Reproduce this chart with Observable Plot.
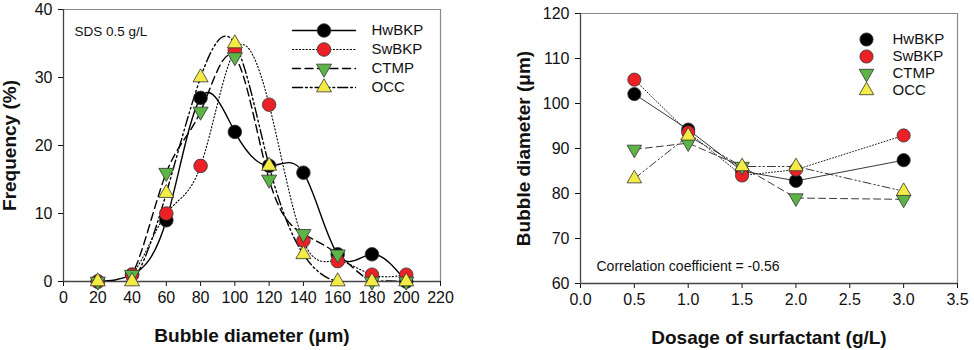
<!DOCTYPE html>
<html>
<head>
<meta charset="utf-8">
<script src="https://cdn.jsdelivr.net/npm/d3@7"></script>
<script src="https://cdn.jsdelivr.net/npm/@observablehq/plot@0.6"></script>
<style>
  html, body { margin: 0; padding: 0; background: #fff; }
  #wrap { position: relative; width: 974px; height: 350px; overflow: hidden; font-family: "Liberation Sans", Arial, sans-serif; }
  #wrap > svg { position: absolute; margin: 0; max-width: none; }
  [aria-label="x-axis label"], [aria-label="y-axis label"],
  [aria-label="x-axis label"] text, [aria-label="y-axis label"] text { font-weight: bold; font-size: 19px; fill: #111; }
  [aria-label="x-axis tick label"], [aria-label="y-axis tick label"],
  [aria-label="x-axis tick label"] text, [aria-label="y-axis tick label"] text { font-size: 16px; fill: #111; }
</style>
</head>
<body>
<div id="wrap"></div>
<script>
// ---------- data ----------
const seriesNames = ["HwBKP", "SwBKP", "CTMP", "OCC"];
const seriesFill = ["#000000", "#ec2127", "#5db446", "#f2ec45"];
const seriesSymbol = ["circle", "circle", "triangle", "triangle"];
const seriesRotate = [0, 0, 180, 0];

// Left panel: bubble size distribution (SDS 0.5 g/L)
const diameters = [20, 40, 60, 80, 100, 120, 140, 160, 180, 200];
const freqHwBKP = [0, 1, 9, 27, 22, 17, 16, 4, 4, 0];
const freqSwBKP = [0, 1, 10, 17, 34, 26, 6, 3, 1, 1];
const freqCTMP  = [0, 1, 16, 25, 33, 15, 7, 4, 0, 0];
const freqOCC   = [0, 0, 13, 30, 35, 17, 4, 0, 0, 0];
const leftXTicks = [0, 20, 40, 60, 80, 100, 120, 140, 160, 180, 200, 220];
const leftYTicks = [0, 10, 20, 30, 40];

// Right panel: bubble diameter vs dosage
const dosages = [0.5, 1.0, 1.5, 2.0, 3.0];
const diamHwBKP = [102.1, 94.2, 85.0, 82.8, 87.4];
const diamSwBKP = [105.3, 93.6, 84.0, 85.3, 92.9];
const diamCTMP  = [89.8, 91.2, 86.0, 79.0, 78.7];
const diamOCC   = [83.3, 92.8, 86.0, 86.0, 80.5];
const rightXTicks = [0.0, 0.5, 1.0, 1.5, 2.0, 2.5, 3.0, 3.5];
const rightYTicks = [60, 70, 80, 90, 100, 110, 120];

// ---------- styles ----------
const leftDash = [null, "1.2,2.2", "8,4.5", "10,3,1.8,3,1.8,3"];
const rightDash = [null, "1,2", "7,4", "8,3,1.5,2.5,1.5,3"];
const rightDashWidth = [0.9, 1, 0.9, 0.9];

const freqs = [freqHwBKP, freqSwBKP, freqCTMP, freqOCC];
const diams = [diamHwBKP, diamSwBKP, diamCTMP, diamOCC];

const leftData = seriesNames.map((s, i) => diameters.map((d, j) => ({series: s, x: d, y: freqs[i][j]})));
const rightData = seriesNames.map((s, i) => dosages.map((d, j) => ({series: s, x: d, y: diams[i][j]})));

const wrap = document.getElementById("wrap");
const baseStyle = {fontFamily: "'Liberation Sans', Arial, sans-serif", fontSize: "16px", color: "#111", background: "transparent", overflow: "visible"};

function place(svg, l, t, w, h) {
  svg.style.left = l + "px"; svg.style.top = t + "px";
  svg.style.width = w + "px"; svg.style.height = h + "px";
  wrap.appendChild(svg);
}

function dotMarks(data, i, r, rt) {
  const isTri = seriesSymbol[i] === "triangle";
  return Plot.dot(data, {x: "x", y: "y", symbol: seriesSymbol[i], r: isTri ? rt : r, fill: seriesFill[i], stroke: "#333", strokeWidth: 0.8, rotate: seriesRotate[i]});
}

// ---------- left panel ----------
const leftMarks = [
  Plot.ruleY([40], {stroke: "#8a8a8a", strokeWidth: 1.2}),
  Plot.ruleX([220], {stroke: "#8a8a8a", strokeWidth: 1.2}),
  Plot.ruleX([0], {stroke: "#444", strokeWidth: 1.3}),
  Plot.ruleY([0], {stroke: "#444", strokeWidth: 1.3}),
  Plot.text(["SDS 0.5 g/L"], {frameAnchor: "top-left", dx: 11, dy: 17, lineAnchor: "top", textAnchor: "start", fontSize: 13.5, fill: "#111"})
];
seriesNames.forEach((s, i) => {
  leftMarks.push(Plot.line(leftData[i], {x: "x", y: "y", curve: "natural", clip: true, stroke: "#000", strokeWidth: i === 1 ? 1.1 : 1.4, strokeDasharray: leftDash[i]}));
});
seriesNames.forEach((s, i) => leftMarks.push(dotMarks(leftData[i], i, 6.8, 5.6)));

const left = Plot.plot({
  width: 480, height: 350,
  marginLeft: 63, marginRight: 40, marginTop: 9, marginBottom: 69,
  style: baseStyle,
  x: {domain: [0, 220], ticks: leftXTicks, tickSize: 5, tickPadding: 5, label: "Bubble diameter (μm)", labelArrow: "none", labelAnchor: "center", labelOffset: 60, line: false},
  y: {domain: [0, 40], ticks: leftYTicks, tickSize: 5, tickPadding: 6, label: "Frequency (%)", labelArrow: "none", labelAnchor: "center", labelOffset: 61, line: false},
  marks: leftMarks
});
place(left, 0, 0, 480, 350);

// left legend
const legLeftData = seriesNames.map((s, i) => ({series: s, i}));
const legLeftMarks = [];
seriesNames.forEach((s, i) => {
  legLeftMarks.push(Plot.line([{x: 0, s}, {x: 1, s}], {x: "x", y: "s", stroke: "#000", strokeWidth: i === 1 ? 1.1 : 1.4, strokeDasharray: leftDash[i]}));
});
seriesNames.forEach((s, i) => {
  legLeftMarks.push(Plot.dot([{x: 0.5, s}], {x: "x", y: "s", symbol: seriesSymbol[i], r: seriesSymbol[i] === "triangle" ? 5.6 : 6.8, fill: seriesFill[i], stroke: "#333", strokeWidth: 0.8, rotate: seriesRotate[i]}));
});
legLeftMarks.push(Plot.text(legLeftData, {x: () => 1, y: "series", text: "series", dx: 16, textAnchor: "start", fontSize: 15, fill: "#111"}));
const legLeft = Plot.plot({
  width: 155, height: 80, marginLeft: 7, marginRight: 85, marginTop: 10, marginBottom: 13,
  style: baseStyle,
  x: {domain: [0, 1], axis: null},
  y: {type: "point", domain: seriesNames, padding: 0, axis: null},
  marks: legLeftMarks
});
place(legLeft, 285, 20, 155, 80);

// ---------- right panel ----------
const rightMarks = [
  Plot.ruleY([120], {stroke: "#8a8a8a", strokeWidth: 1.2}),
  Plot.ruleX([3.5], {stroke: "#8a8a8a", strokeWidth: 1.2}),
  Plot.ruleX([0], {stroke: "#444", strokeWidth: 1.3}),
  Plot.ruleY([60], {stroke: "#444", strokeWidth: 1.3}),
  Plot.text(["Correlation coefficient = -0.56"], {frameAnchor: "bottom-left", dx: 16, dy: -13, lineAnchor: "bottom", textAnchor: "start", fontSize: 14, fill: "#111"})
];
seriesNames.forEach((s, i) => {
  rightMarks.push(Plot.line(rightData[i], {x: "x", y: "y", stroke: "#222", strokeWidth: rightDashWidth[i], strokeDasharray: rightDash[i]}));
});
seriesNames.forEach((s, i) => rightMarks.push(dotMarks(rightData[i], i, 6.6, 5.4)));

const right = Plot.plot({
  width: 484, height: 350,
  marginLeft: 90, marginRight: 17, marginTop: 13, marginBottom: 67,
  style: baseStyle,
  x: {domain: [0, 3.5], ticks: rightXTicks, tickFormat: ".1f", tickSize: 5, tickPadding: 5, label: "Dosage of surfactant (g/L)", labelArrow: "none", labelAnchor: "center", labelOffset: 60, line: false},
  y: {domain: [60, 120], ticks: rightYTicks, tickSize: 5, tickPadding: 6, label: "Bubble diameter (μm)", labelArrow: "none", labelAnchor: "center", labelOffset: 64, line: false},
  marks: rightMarks
});
place(right, 490, 0, 484, 350);

// right legend
const legRightData = seriesNames.map((s, i) => ({series: s, i}));
const legRightMarks = [];
seriesNames.forEach((s, i) => {
  legRightMarks.push(Plot.dot([{x: 0, s}], {x: "x", y: "s", symbol: seriesSymbol[i], r: seriesSymbol[i] === "triangle" ? 5.4 : 6.6, fill: seriesFill[i], stroke: "#333", strokeWidth: 0.8, rotate: seriesRotate[i]}));
});
legRightMarks.push(Plot.text(legRightData, {x: () => 0, y: "series", text: "series", dx: 26, textAnchor: "start", fontSize: 15, fill: "#111"}));
const legRight = Plot.plot({
  width: 110, height: 80, marginLeft: 16, marginRight: 10, marginTop: 13, marginBottom: 14,
  style: baseStyle,
  x: {domain: [0, 1], axis: null},
  y: {type: "point", domain: seriesNames, padding: 0, axis: null},
  marks: legRightMarks
});
place(legRight, 850, 25, 110, 80);
</script>
</body>
</html>
